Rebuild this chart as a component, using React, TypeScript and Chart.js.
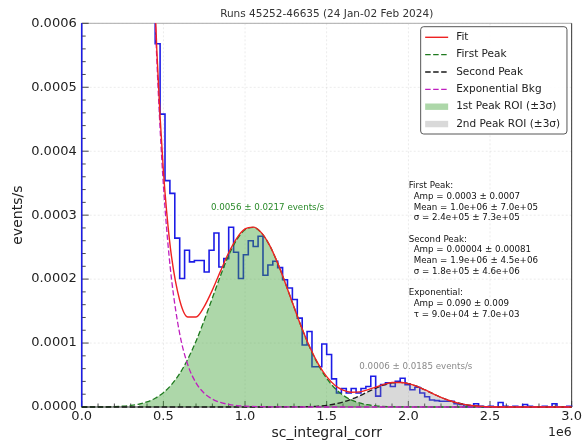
import React, { useEffect, useRef } from "react";
import { Chart, registerables } from "chart.js";

Chart.register(...registerables);

const FONT = '"DejaVu Sans", "Liberation Sans", sans-serif';

// ---------- text ----------
const TITLE = "Runs 45252-46635 (24 Jan-02 Feb 2024)";
const X_TITLE = "sc_integral_corr";
const Y_TITLE = "events/s";
const X_OFFSET_TEXT = "1e6";
const PEAK1_ANNOT = "0.0056 ± 0.0217 events/s";
const PEAK2_ANNOT = "0.0006 ± 0.0185 events/s";
const PARAM_LINES = [
  "First Peak:",
  "  Amp = 0.0003 ± 0.0007",
  "  Mean = 1.0e+06 ± 7.0e+05",
  "  σ = 2.4e+05 ± 7.3e+05",
  "",
  "Second Peak:",
  "  Amp = 0.00004 ± 0.00081",
  "  Mean = 1.9e+06 ± 4.5e+06",
  "  σ = 1.8e+05 ± 4.6e+06",
  "",
  "Exponential:",
  "  Amp = 0.090 ± 0.009",
  "  τ = 9.0e+04 ± 7.0e+03",
];
const LEGEND_LABELS = [
  "Fit",
  "First Peak",
  "Second Peak",
  "Exponential Bkg",
  "1st Peak ROI (±3σ)",
  "2nd Peak ROI (±3σ)",
];

// ---------- axes ----------
const X_MIN = 0;
const X_MAX = 3.0;
const Y_MIN = 0;
const Y_MAX = 0.0006;
const X_TICKS = [0, 0.5, 1.0, 1.5, 2.0, 2.5, 3.0];
const Y_TICKS = [0, 0.0001, 0.0002, 0.0003, 0.0004, 0.0005, 0.0006];
const X_MINOR_STEP = 0.1;
const Y_MINOR_STEP = 0.00002;

// ---------- histogram (x in units of 1e6, events/s per bin) ----------
const BIN_WIDTH = 0.03;
const HIST_VALUES = [
  0.0062, 0.0052, 0.0044, 0.0037, 0.0031, 0.0026, 0.0022, 0.00185, 0.00155, 0.0013,
  0.0011, 0.00096, 0.00084, 0.00074, 0.00066, 0.000568, 0.000458, 0.000354, 0.000334, 0.000264,
  0.000201, 0.000245, 0.000227, 0.000229, 0.000229, 0.000211, 0.000245, 0.000272, 0.000219, 0.000232,
  0.000281, 0.000242, 0.000201, 0.000238, 0.00026, 0.000251, 0.000267, 0.000206, 0.000222, 0.000228,
  0.000218, 0.000199, 0.000186, 0.000168, 0.000139, 0.000097, 0.000118, 0.000063, 0.000063, 0.0000985,
  0.000082, 0.000044, 0.000022, 0.000029, 0.000022, 0.000029, 0.000022, 0.000029, 0.000032, 0.000048,
  0.000017, 0.000035, 0.000038, 0.000032, 0.00004, 0.000045, 0.000035, 0.000027, 0.000031, 0.000022,
  0.000016, 0.000011, 0.00001, 0.000009, 0.000009, 0.000009, 0.000005, 0.000004, 0.000001, 0,
  0.000005, 0.000001, 0, 0.000001, 0, 0.000007, 0.000001, 0, 0.000001, 0,
  0.000004, 0.000001, 0, 0, 0.000001, 0, 0.000005, 0, 0, 0.000001,
];

// ---------- fitted curves (sampled) ----------
const FIT_X = [
  0.38, 0.4, 0.42, 0.44, 0.46, 0.48, 0.5, 0.52, 0.55, 0.6, 0.65, 0.7, 0.75, 0.8, 0.85, 0.9, 0.95,
  1.0, 1.05, 1.1, 1.15, 1.2, 1.25, 1.3, 1.35, 1.4, 1.45, 1.5, 1.55, 1.6, 1.65, 1.7, 1.75, 1.8,
  1.85, 1.9, 1.95, 2.0, 2.05, 2.1, 2.15, 2.2, 2.25, 2.3, 2.35, 2.4, 2.45, 2.5, 2.6, 3.0,
];
const FIT_Y = [
  0.001326, 0.001066, 0.000856, 0.00069, 0.000558, 0.000454, 0.00037, 0.000306, 0.000235, 0.000167,
  0.0001408, 0.0001407, 0.000157, 0.0001828, 0.0002125, 0.0002412, 0.0002642, 0.0002785, 0.0002813,
  0.0002727, 0.0002531, 0.000225, 0.0001916, 0.0001563, 0.000122, 0.0000919, 0.0000667, 0.0000474,
  0.0000341, 0.0000263, 0.0000231, 0.0000237, 0.0000269, 0.0000312, 0.0000353, 0.0000382, 0.0000384,
  0.0000366, 0.0000326, 0.000027, 0.0000209, 0.0000151, 0.0000102, 0.0000064, 0.00000375, 0.00000205,
  0.00000105, 0.0000005, 0.00000009, 0,
];

const EXP_X = [
  0.38, 0.4, 0.42, 0.44, 0.46, 0.48, 0.5, 0.52, 0.55, 0.6, 0.65, 0.7, 0.75, 0.8, 0.85, 0.9, 0.95,
  1.0, 1.1, 1.2, 1.3, 1.5, 2.0, 2.5, 3.0,
];
const EXP_Y = [
  0.00132, 0.001058, 0.000846, 0.000678, 0.000543, 0.000435, 0.000348, 0.000279, 0.0002, 0.0001146,
  0.0000657, 0.0000377, 0.0000216, 0.0000124, 0.0000071, 0.0000041, 0.0000023, 0.00000135,
  0.00000044, 0.00000015, 0.00000005, 0, 0, 0, 0,
];

const PEAK1_X = [
  0, 0.1, 0.2, 0.25, 0.3, 0.35, 0.4, 0.45, 0.5, 0.55, 0.6, 0.65, 0.7, 0.75, 0.8, 0.85, 0.9, 0.95,
  1.0, 1.05, 1.1, 1.15, 1.2, 1.25, 1.3, 1.35, 1.4, 1.45, 1.5, 1.55, 1.6, 1.65, 1.7, 1.75, 1.8, 1.9,
  2.0, 2.5, 3.0,
];
const PEAK1_Y = [
  0, 0.00000013, 0.00000062, 0.00000125, 0.00000243, 0.0000045, 0.000008, 0.0000137, 0.0000224,
  0.000035, 0.0000523, 0.0000751, 0.000103, 0.0001354, 0.0001704, 0.0002054, 0.0002371, 0.0002619,
  0.0002771, 0.0002808, 0.0002723, 0.000253, 0.000225, 0.0001916, 0.0001563, 0.000122, 0.0000912,
  0.0000653, 0.0000448, 0.0000294, 0.0000185, 0.0000111, 0.0000064, 0.0000035, 0.00000187,
  0.00000046, 0.00000009, 0, 0,
];

const PEAK2_X = [
  0, 1.0, 1.3, 1.4, 1.45, 1.5, 1.55, 1.6, 1.65, 1.7, 1.75, 1.8, 1.85, 1.9, 1.95, 2.0, 2.05, 2.1,
  2.15, 2.2, 2.25, 2.3, 2.35, 2.4, 2.45, 2.5, 2.6, 3.0,
];
const PEAK2_Y = [
  0, 0, 0.00000013, 0.00000068, 0.00000138, 0.00000264, 0.00000468, 0.00000777, 0.000012, 0.0000173,
  0.0000234, 0.0000293, 0.0000344, 0.0000377, 0.0000384, 0.0000366, 0.0000326, 0.000027, 0.0000209,
  0.0000151, 0.0000102, 0.0000064, 0.00000375, 0.00000205, 0.00000105, 0.0000005, 0.00000009, 0,
];

// ±3σ regions of interest
const ROI1 = [0.32, 1.76];
const ROI2 = [1.37, 2.51];

// annotation anchors (data coords)
const PEAK1_ANNOT_AT = [1.138, 0.000312];
const PEAK2_ANNOT_AT = [2.046, 0.0000623];
const PARAMS_AT = [2.002, 0.0003458];

// ---------- styles ----------
const C_HIST = "#1c1ce6";
const C_FIT = "#ee2222";
const C_PEAK1 = "#1f7a1f";
const C_PEAK2 = "#1a1a1a";
const C_EXP = "#bf1fbf";
const C_ROI1 = "rgba(60,160,50,0.42)";
const C_ROI2 = "rgba(128,128,128,0.30)";
const DASH = [5.5, 2.5];

const zip = (xs: number[], ys: number[]) => xs.map((x, i) => ({ x, y: ys[i] }));

function histPoints() {
  const pts: { x: number; y: number }[] = [{ x: 0, y: 0 }];
  HIST_VALUES.forEach((v, i) => {
    const l = i * BIN_WIDTH;
    const r = (i + 1) * BIN_WIDTH;
    pts.push({ x: l, y: v });
    pts.push({ x: r, y: v });
  });
  pts.push({ x: HIST_VALUES.length * BIN_WIDTH, y: 0 });
  return pts;
}

const overlay = {
  id: "overlay",
  beforeDatasetsDraw(chart: any) {
    const { ctx, chartArea: a, scales } = chart;
    const xs = scales.x;
    const ys = scales.y;
    ctx.save();
    // grid
    ctx.strokeStyle = "rgba(0,0,0,0.10)";
    ctx.lineWidth = 0.8;
    ctx.setLineDash([2, 2]);
    X_TICKS.forEach((v) => {
      const p = xs.getPixelForValue(v);
      ctx.beginPath();
      ctx.moveTo(p, a.top);
      ctx.lineTo(p, a.bottom);
      ctx.stroke();
    });
    Y_TICKS.forEach((v) => {
      const p = ys.getPixelForValue(v);
      ctx.beginPath();
      ctx.moveTo(a.left, p);
      ctx.lineTo(a.right, p);
      ctx.stroke();
    });
    ctx.setLineDash([]);
    // spines
    ctx.lineWidth = 1;
    ctx.strokeStyle = "#aaaaaa";
    ctx.beginPath();
    ctx.moveTo(a.left, a.top);
    ctx.lineTo(a.right, a.top);
    ctx.stroke();
    ctx.strokeStyle = "#333333";
    ctx.beginPath();
    ctx.moveTo(a.left, a.top);
    ctx.lineTo(a.left, a.bottom);
    ctx.lineTo(a.right, a.bottom);
    ctx.lineTo(a.right, a.top);
    ctx.stroke();
    // inward ticks
    ctx.lineWidth = 0.9;
    ctx.strokeStyle = "#333333";
    const nx = Math.round((X_MAX - X_MIN) / X_MINOR_STEP);
    for (let k = 0; k <= nx; k++) {
      const v = X_MIN + k * X_MINOR_STEP;
      const major = k % 5 === 0;
      const p = xs.getPixelForValue(v);
      ctx.beginPath();
      ctx.moveTo(p, a.bottom);
      ctx.lineTo(p, a.bottom - (major ? 6 : 3.5));
      ctx.stroke();
    }
    const ny = Math.round((Y_MAX - Y_MIN) / Y_MINOR_STEP);
    for (let k = 0; k <= ny; k++) {
      const v = Y_MIN + k * Y_MINOR_STEP;
      const major = k % 5 === 0;
      const p = ys.getPixelForValue(v);
      ctx.beginPath();
      ctx.moveTo(a.left, p);
      ctx.lineTo(a.left + (major ? 7 : 4), p);
      ctx.stroke();
    }
    ctx.restore();
  },
  afterDraw(chart: any) {
    const { ctx, chartArea: a, scales } = chart;
    const xs = scales.x;
    const ys = scales.y;
    ctx.save();
    const cx = (a.left + a.right) / 2;
    // title
    ctx.fillStyle = "#333";
    ctx.font = `10.5px ${FONT}`;
    ctx.textAlign = "center";
    ctx.textBaseline = "middle";
    ctx.fillText(TITLE, cx, 14);
    // axis titles
    ctx.fillStyle = "#222";
    ctx.font = `14px ${FONT}`;
    ctx.fillText(X_TITLE, cx, 433);
    ctx.save();
    ctx.translate(18, (a.top + a.bottom) / 2);
    ctx.rotate(-Math.PI / 2);
    ctx.fillText(Y_TITLE, 0, 0);
    ctx.restore();
    ctx.font = `12.5px ${FONT}`;
    ctx.textAlign = "right";
    ctx.fillText(X_OFFSET_TEXT, a.right, 433);

    // peak annotations
    ctx.textAlign = "center";
    ctx.font = `8.7px ${FONT}`;
    ctx.fillStyle = "#2a8a2a";
    ctx.fillText(PEAK1_ANNOT, xs.getPixelForValue(PEAK1_ANNOT_AT[0]), ys.getPixelForValue(PEAK1_ANNOT_AT[1]));
    ctx.fillStyle = "#8a8a8a";
    ctx.fillText(PEAK2_ANNOT, xs.getPixelForValue(PEAK2_ANNOT_AT[0]), ys.getPixelForValue(PEAK2_ANNOT_AT[1]));

    // parameters block
    ctx.textAlign = "left";
    ctx.fillStyle = "#111";
    ctx.font = `8.7px ${FONT}`;
    const px0 = xs.getPixelForValue(PARAMS_AT[0]);
    const py0 = ys.getPixelForValue(PARAMS_AT[1]);
    PARAM_LINES.forEach((line, i) => {
      if (!line) return;
      const indent = line.startsWith("  ") ? 5 : 0;
      ctx.fillText(line.trim(), px0 + indent, py0 + i * 10.7);
    });

    // legend
    const bx = a.right - 151;
    const by = a.top + 3.4;
    const bw = 146.3;
    const bh = 107.3;
    ctx.beginPath();
    const r = 3;
    ctx.moveTo(bx + r, by);
    ctx.lineTo(bx + bw - r, by);
    ctx.arcTo(bx + bw, by, bx + bw, by + r, r);
    ctx.lineTo(bx + bw, by + bh - r);
    ctx.arcTo(bx + bw, by + bh, bx + bw - r, by + bh, r);
    ctx.lineTo(bx + r, by + bh);
    ctx.arcTo(bx, by + bh, bx, by + bh - r, r);
    ctx.lineTo(bx, by + r);
    ctx.arcTo(bx, by, bx + r, by, r);
    ctx.closePath();
    ctx.fillStyle = "rgba(255,255,255,0.85)";
    ctx.fill();
    ctx.strokeStyle = "#444";
    ctx.lineWidth = 0.9;
    ctx.stroke();

    const styles = [
      { kind: "line", color: C_FIT, dash: [] as number[] },
      { kind: "line", color: C_PEAK1, dash: DASH },
      { kind: "line", color: C_PEAK2, dash: DASH },
      { kind: "line", color: C_EXP, dash: DASH },
      { kind: "patch", color: C_ROI1, dash: [] as number[] },
      { kind: "patch", color: C_ROI2, dash: [] as number[] },
    ];
    ctx.font = `10.5px ${FONT}`;
    ctx.textBaseline = "middle";
    LEGEND_LABELS.forEach((label, i) => {
      const ry = by + 10.6 + i * 17.35;
      const s = styles[i];
      const lx0 = bx + 4.5;
      const lx1 = bx + 27.5;
      if (s.kind === "line") {
        ctx.strokeStyle = s.color;
        ctx.lineWidth = 1.4;
        ctx.setLineDash(s.dash);
        ctx.beginPath();
        ctx.moveTo(lx0, ry);
        ctx.lineTo(lx1, ry);
        ctx.stroke();
        ctx.setLineDash([]);
      } else {
        ctx.fillStyle = s.color;
        ctx.fillRect(lx0, ry - 3.2, lx1 - lx0, 6.4);
      }
      ctx.fillStyle = "#222";
      ctx.textAlign = "left";
      ctx.fillText(label, bx + 35.5, ry);
    });
    ctx.restore();
  },
};

export default function App() {
  const ref = useRef<HTMLCanvasElement>(null);
  useEffect(() => {
    const canvas = ref.current;
    if (!canvas) return;
    const peak1 = zip(PEAK1_X, PEAK1_Y);
    const peak2 = zip(PEAK2_X, PEAK2_Y);
    const roi1 = peak1.filter((p) => p.x >= ROI1[0] && p.x <= ROI1[1]);
    const roi2 = peak2.filter((p) => p.x >= ROI2[0] && p.x <= ROI2[1]);
    const curve = {
      pointRadius: 0,
      cubicInterpolationMode: "monotone" as const,
      fill: false,
      clip: { left: 1, top: 0, right: 1, bottom: 1 },
    };
    const chart = new Chart(canvas, {
      type: "line",
      data: {
        datasets: [
          { label: "Fit", data: zip(FIT_X, FIT_Y), borderColor: C_FIT, borderWidth: 1.4, order: 0, ...curve },
          { label: "Exponential Bkg", data: zip(EXP_X, EXP_Y), borderColor: C_EXP, borderWidth: 1.3, borderDash: DASH, order: 1, ...curve },
          { label: "Second Peak", data: peak2, borderColor: C_PEAK2, borderWidth: 1.3, borderDash: DASH, order: 2, ...curve },
          { label: "First Peak", data: peak1, borderColor: C_PEAK1, borderWidth: 1.3, borderDash: DASH, order: 3, ...curve },
          { label: "1st Peak ROI", data: roi1, borderColor: "rgba(0,0,0,0)", borderWidth: 1, backgroundColor: C_ROI1, order: 4, pointRadius: 0, cubicInterpolationMode: "monotone", fill: "origin" },
          { label: "2nd Peak ROI", data: roi2, borderColor: "rgba(0,0,0,0)", borderWidth: 1, backgroundColor: C_ROI2, order: 5, pointRadius: 0, cubicInterpolationMode: "monotone", fill: "origin" },
          { label: "Data", data: histPoints(), borderColor: C_HIST, borderWidth: 1.6, tension: 0, pointRadius: 0, fill: false, order: 6, clip: { left: 1.5, top: 0, right: 1, bottom: 1 } },
        ] as any,
      },
      options: {
        animation: false,
        responsive: false,
        maintainAspectRatio: false,
        layout: { padding: { top: 23.3, right: 11, left: 0, bottom: 0 } },
        plugins: {
          legend: { display: false },
          tooltip: { enabled: false },
          title: { display: false },
        },
        scales: {
          x: {
            type: "linear",
            min: X_MIN,
            max: X_MAX,
            grid: { display: false, drawTicks: false },
            border: { display: false },
            ticks: {
              stepSize: 0.5,
              padding: 2,
              color: "#222",
              font: { family: FONT, size: 13 },
              maxRotation: 0,
              autoSkip: false,
              callback: (v: any) => Number(v).toFixed(1),
            },
            afterFit: (s: any) => {
              s.height = 35;
            },
          },
          y: {
            type: "linear",
            min: Y_MIN,
            max: Y_MAX,
            grid: { display: false, drawTicks: false },
            border: { display: false },
            ticks: {
              stepSize: 0.0001,
              padding: 5,
              color: "#222",
              font: { family: FONT, size: 13 },
              callback: (v: any) => Number(v).toFixed(4),
            },
            afterFit: (s: any) => {
              s.width = 81.7;
            },
          },
        },
      } as any,
      plugins: [overlay],
    });
    return () => chart.destroy();
  }, []);
  return (
    <div style={{ position: "absolute", left: 0, top: 0, width: 584, height: 442, background: "#fff" }}>
      <canvas ref={ref} width={584} height={442} style={{ display: "block", width: 584, height: 442 }} />
    </div>
  );
}
